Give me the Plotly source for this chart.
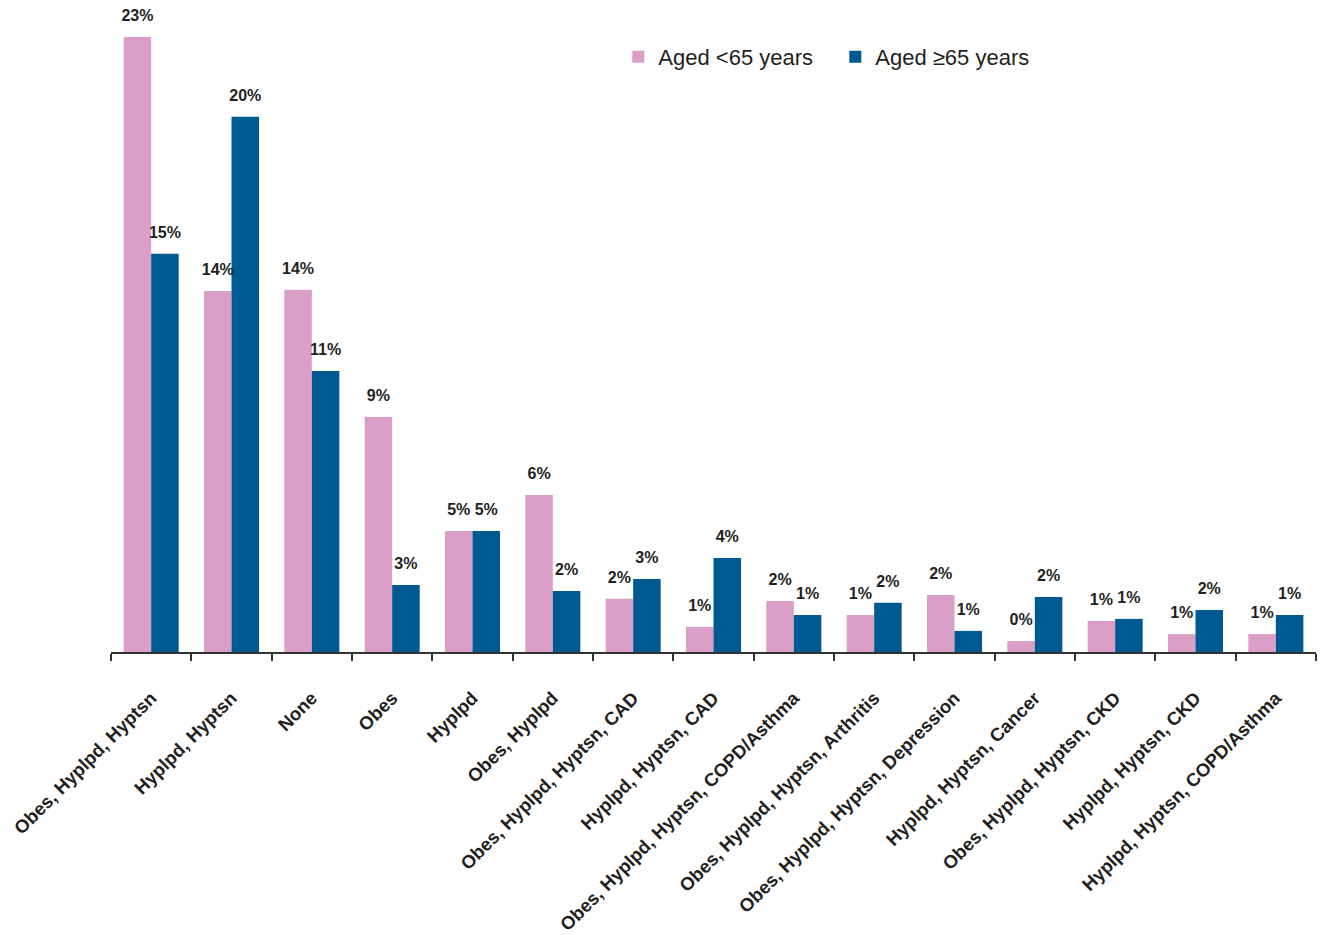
import plotly.graph_objects as go

# Comorbidity combinations and share of patients in each age group (%)
categories = [
    "Obes, Hyplpd, Hyptsn",
    "Hyplpd, Hyptsn",
    "None",
    "Obes",
    "Hyplpd",
    "Obes, Hyplpd",
    "Obes, Hyplpd, Hyptsn, CAD",
    "Hyplpd, Hyptsn, CAD",
    "Obes, Hyplpd, Hyptsn, COPD/Asthma",
    "Obes, Hyplpd, Hyptsn, Arthritis",
    "Obes, Hyplpd, Hyptsn, Depression",
    "Hyplpd, Hyptsn, Cancer",
    "Obes, Hyplpd, Hyptsn, CKD",
    "Hyplpd, Hyptsn, CKD",
    "Hyplpd, Hyptsn, COPD/Asthma",
]
under65 = [23.03, 13.52, 13.56, 8.80, 4.53, 5.88, 1.99, 0.94, 1.91, 1.39, 2.13, 0.41, 1.16, 0.67, 0.67]
over65 = [14.91, 20.04, 10.52, 2.51, 4.53, 2.28, 2.73, 3.52, 1.39, 1.84, 0.79, 2.06, 1.24, 1.57, 1.39]

series_names = ["Aged <65 years", "Aged \u226565 years"]

PINK = "#DB9FC7"
BLUE = "#005A92"
INK = "#231F20"
FONT = "Liberation Sans, Arial, Helvetica, sans-serif"
LABEL_PAD = 0.37  # lift of value labels above bar tops, in axis units

fig = go.Figure()

for name, vals, color, grp in [
    (series_names[0], under65, PINK, "u"),
    (series_names[1], over65, BLUE, "o"),
]:
    fig.add_trace(go.Bar(
        x=categories, y=vals, name=name, offsetgroup=grp,
        marker=dict(color=color, line=dict(width=0)),
    ))

# value labels sit on thin transparent bars stacked on each column's top
for vals, grp in [(under65, "u"), (over65, "o")]:
    fig.add_trace(go.Bar(
        x=categories, y=[LABEL_PAD] * len(vals), base=vals, customdata=vals,
        offsetgroup=grp, showlegend=False, hoverinfo="skip",
        marker=dict(color="rgba(0,0,0,0)", line=dict(width=0)),
        texttemplate="%{customdata:.0f}%", textposition="outside",
        constraintext="none", cliponaxis=False,
        textfont=dict(family=FONT, size=16, color=INK, weight="bold"),
    ))

fig.update_layout(
    width=1324, height=935,
    margin=dict(l=111, r=8, t=10, b=283, autoexpand=False),
    paper_bgcolor="white", plot_bgcolor="white",
    barmode="group", bargap=0.315, bargroupgap=0,
    font=dict(family=FONT, color=INK),
    showlegend=True,
    legend=dict(
        orientation="h", x=0.421, y=0.927, xanchor="left", yanchor="middle",
        font=dict(family=FONT, size=22, color=INK),
        itemwidth=30, entrywidth=172, bgcolor="rgba(0,0,0,0)",
    ),
    xaxis=dict(
        type="category", tickson="boundaries", ticks="outside",
        ticklen=7, tickwidth=2, tickcolor="#333333",
        showline=True, linecolor="#333333", linewidth=2,
        showgrid=False, zeroline=False, tickangle=-45,
        ticklabelstandoff=26, automargin=False,
        tickfont=dict(family=FONT, size=18.5, color=INK, weight="bold"),
    ),
    yaxis=dict(visible=False, range=[0, 24.04], fixedrange=True, automargin=False),
)

fig.write_html("out.html")
